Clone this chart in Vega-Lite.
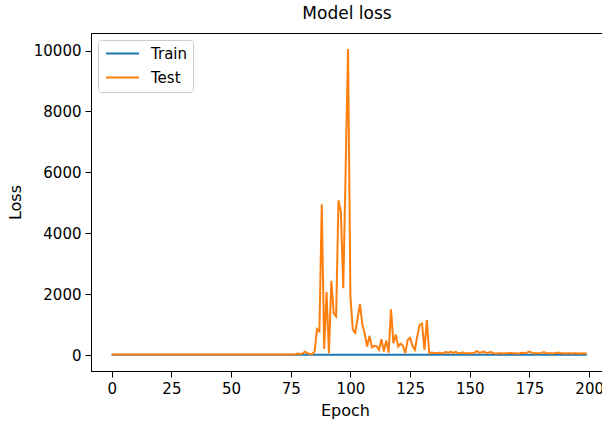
{
  "$schema": "https://vega.github.io/schema/vega-lite/v6.json",
  "width": 512,
  "height": 338,
  "autosize": {"type": "none"},
  "padding": {"left": 91, "top": 33, "right": 0, "bottom": 57},
  "background": "white",
  "config": {
    "font": "DejaVu Sans",
    "view": {"stroke": "black", "strokeWidth": 1},
    "axis": {
      "grid": false,
      "domainColor": "black",
      "tickColor": "black",
      "labelColor": "black",
      "titleColor": "black",
      "labelFont": "DejaVu Sans",
      "titleFont": "DejaVu Sans",
      "labelFontSize": 15,
      "titleFontSize": 16,
      "titleFontWeight": "normal",
      "tickSize": 6,
      "labelPadding": 4
    }
  },
  "title": {
    "text": "Model loss",
    "fontSize": 17,
    "fontWeight": "normal",
    "color": "black",
    "font": "DejaVu Sans",
    "anchor": "middle",
    "offset": 10
  },
  "data": {
    "values": [
      {"epoch":0,"Train":12,"Test":16},{"epoch":1,"Train":12,"Test":15},{"epoch":2,"Train":12,"Test":15},{"epoch":3,"Train":12,"Test":16},{"epoch":4,"Train":12,"Test":15},
      {"epoch":5,"Train":12,"Test":15},{"epoch":6,"Train":12,"Test":14},{"epoch":7,"Train":12,"Test":15},{"epoch":8,"Train":12,"Test":15},{"epoch":9,"Train":12,"Test":16},
      {"epoch":10,"Train":12,"Test":15},{"epoch":11,"Train":12,"Test":15},{"epoch":12,"Train":12,"Test":14},{"epoch":13,"Train":12,"Test":15},{"epoch":14,"Train":12,"Test":15},
      {"epoch":15,"Train":12,"Test":15},{"epoch":16,"Train":12,"Test":16},{"epoch":17,"Train":12,"Test":15},{"epoch":18,"Train":12,"Test":15},{"epoch":19,"Train":12,"Test":14},
      {"epoch":20,"Train":12,"Test":15},{"epoch":21,"Train":12,"Test":15},{"epoch":22,"Train":12,"Test":15},{"epoch":23,"Train":12,"Test":16},{"epoch":24,"Train":12,"Test":15},
      {"epoch":25,"Train":12,"Test":15},{"epoch":26,"Train":12,"Test":15},{"epoch":27,"Train":12,"Test":14},{"epoch":28,"Train":12,"Test":15},{"epoch":29,"Train":12,"Test":15},
      {"epoch":30,"Train":12,"Test":15},{"epoch":31,"Train":12,"Test":16},{"epoch":32,"Train":12,"Test":15},{"epoch":33,"Train":12,"Test":15},{"epoch":34,"Train":12,"Test":15},
      {"epoch":35,"Train":12,"Test":14},{"epoch":36,"Train":12,"Test":15},{"epoch":37,"Train":12,"Test":15},{"epoch":38,"Train":12,"Test":15},{"epoch":39,"Train":12,"Test":16},
      {"epoch":40,"Train":12,"Test":15},{"epoch":41,"Train":12,"Test":15},{"epoch":42,"Train":12,"Test":15},{"epoch":43,"Train":12,"Test":14},{"epoch":44,"Train":12,"Test":15},
      {"epoch":45,"Train":12,"Test":15},{"epoch":46,"Train":12,"Test":15},{"epoch":47,"Train":12,"Test":16},{"epoch":48,"Train":12,"Test":15},{"epoch":49,"Train":12,"Test":15},
      {"epoch":50,"Train":12,"Test":15},{"epoch":51,"Train":12,"Test":14},{"epoch":52,"Train":12,"Test":15},{"epoch":53,"Train":12,"Test":15},{"epoch":54,"Train":12,"Test":15},
      {"epoch":55,"Train":12,"Test":16},{"epoch":56,"Train":12,"Test":15},{"epoch":57,"Train":12,"Test":15},{"epoch":58,"Train":12,"Test":15},{"epoch":59,"Train":12,"Test":14},
      {"epoch":60,"Train":12,"Test":15},{"epoch":61,"Train":12,"Test":15},{"epoch":62,"Train":12,"Test":15},{"epoch":63,"Train":12,"Test":16},{"epoch":64,"Train":12,"Test":15},
      {"epoch":65,"Train":12,"Test":15},{"epoch":66,"Train":12,"Test":15},{"epoch":67,"Train":12,"Test":14},{"epoch":68,"Train":12,"Test":15},{"epoch":69,"Train":12,"Test":15},
      {"epoch":70,"Train":12,"Test":15},{"epoch":71,"Train":12,"Test":16},{"epoch":72,"Train":12,"Test":15},{"epoch":73,"Train":12,"Test":15},{"epoch":74,"Train":12,"Test":15},
      {"epoch":75,"Train":12,"Test":14},{"epoch":76,"Train":12,"Test":18},{"epoch":77,"Train":11,"Test":25},{"epoch":78,"Train":11,"Test":45},{"epoch":79,"Train":11,"Test":30},
      {"epoch":80,"Train":11,"Test":55},{"epoch":81,"Train":11,"Test":110},{"epoch":82,"Train":11,"Test":60},{"epoch":83,"Train":11,"Test":35},{"epoch":84,"Train":11,"Test":30},
      {"epoch":85,"Train":11,"Test":120},{"epoch":86,"Train":11,"Test":850},{"epoch":87,"Train":11,"Test":780},{"epoch":88,"Train":11,"Test":4950},{"epoch":89,"Train":11,"Test":200},
      {"epoch":90,"Train":11,"Test":2080},{"epoch":91,"Train":11,"Test":60},{"epoch":92,"Train":11,"Test":2440},{"epoch":93,"Train":11,"Test":1370},{"epoch":94,"Train":11,"Test":1270},
      {"epoch":95,"Train":11,"Test":5080},{"epoch":96,"Train":11,"Test":4700},{"epoch":97,"Train":11,"Test":2190},{"epoch":98,"Train":11,"Test":6100},{"epoch":99,"Train":11,"Test":10050},
      {"epoch":100,"Train":10,"Test":1900},{"epoch":101,"Train":10,"Test":830},{"epoch":102,"Train":10,"Test":730},{"epoch":103,"Train":10,"Test":1200},{"epoch":104,"Train":10,"Test":1680},
      {"epoch":105,"Train":10,"Test":1000},{"epoch":106,"Train":10,"Test":700},{"epoch":107,"Train":10,"Test":280},{"epoch":108,"Train":10,"Test":630},{"epoch":109,"Train":10,"Test":250},
      {"epoch":110,"Train":10,"Test":300},{"epoch":111,"Train":10,"Test":280},{"epoch":112,"Train":10,"Test":170},{"epoch":113,"Train":10,"Test":520},{"epoch":114,"Train":10,"Test":110},
      {"epoch":115,"Train":10,"Test":480},{"epoch":116,"Train":10,"Test":80},{"epoch":117,"Train":10,"Test":1500},{"epoch":118,"Train":10,"Test":390},{"epoch":119,"Train":10,"Test":670},
      {"epoch":120,"Train":10,"Test":280},{"epoch":121,"Train":10,"Test":370},{"epoch":122,"Train":10,"Test":300},{"epoch":123,"Train":10,"Test":60},{"epoch":124,"Train":10,"Test":500},
      {"epoch":125,"Train":10,"Test":560},{"epoch":126,"Train":10,"Test":300},{"epoch":127,"Train":10,"Test":170},{"epoch":128,"Train":10,"Test":610},{"epoch":129,"Train":10,"Test":990},
      {"epoch":130,"Train":10,"Test":1030},{"epoch":131,"Train":10,"Test":170},{"epoch":132,"Train":10,"Test":1150},{"epoch":133,"Train":10,"Test":60},{"epoch":134,"Train":10,"Test":80},
      {"epoch":135,"Train":9,"Test":70},{"epoch":136,"Train":9,"Test":60},{"epoch":137,"Train":9,"Test":70},{"epoch":138,"Train":9,"Test":55},{"epoch":139,"Train":9,"Test":60},
      {"epoch":140,"Train":9,"Test":100},{"epoch":141,"Train":9,"Test":70},{"epoch":142,"Train":9,"Test":110},{"epoch":143,"Train":9,"Test":60},{"epoch":144,"Train":9,"Test":100},
      {"epoch":145,"Train":9,"Test":70},{"epoch":146,"Train":9,"Test":60},{"epoch":147,"Train":9,"Test":90},{"epoch":148,"Train":9,"Test":60},{"epoch":149,"Train":9,"Test":55},
      {"epoch":150,"Train":9,"Test":60},{"epoch":151,"Train":9,"Test":60},{"epoch":152,"Train":9,"Test":70},{"epoch":153,"Train":9,"Test":130},{"epoch":154,"Train":9,"Test":70},
      {"epoch":155,"Train":9,"Test":90},{"epoch":156,"Train":9,"Test":110},{"epoch":157,"Train":9,"Test":60},{"epoch":158,"Train":9,"Test":80},{"epoch":159,"Train":9,"Test":100},
      {"epoch":160,"Train":9,"Test":60},{"epoch":161,"Train":9,"Test":50},{"epoch":162,"Train":9,"Test":55},{"epoch":163,"Train":9,"Test":60},{"epoch":164,"Train":9,"Test":50},
      {"epoch":165,"Train":9,"Test":55},{"epoch":166,"Train":9,"Test":60},{"epoch":167,"Train":9,"Test":70},{"epoch":168,"Train":9,"Test":55},{"epoch":169,"Train":9,"Test":60},
      {"epoch":170,"Train":8,"Test":50},{"epoch":171,"Train":8,"Test":55},{"epoch":172,"Train":8,"Test":70},{"epoch":173,"Train":8,"Test":60},{"epoch":174,"Train":8,"Test":80},
      {"epoch":175,"Train":8,"Test":110},{"epoch":176,"Train":8,"Test":70},{"epoch":177,"Train":8,"Test":60},{"epoch":178,"Train":8,"Test":55},{"epoch":179,"Train":8,"Test":60},
      {"epoch":180,"Train":8,"Test":70},{"epoch":181,"Train":8,"Test":100},{"epoch":182,"Train":8,"Test":60},{"epoch":183,"Train":8,"Test":55},{"epoch":184,"Train":8,"Test":60},
      {"epoch":185,"Train":8,"Test":50},{"epoch":186,"Train":8,"Test":70},{"epoch":187,"Train":8,"Test":80},{"epoch":188,"Train":8,"Test":60},{"epoch":189,"Train":8,"Test":55},
      {"epoch":190,"Train":8,"Test":50},{"epoch":191,"Train":8,"Test":60},{"epoch":192,"Train":8,"Test":55},{"epoch":193,"Train":8,"Test":50},{"epoch":194,"Train":8,"Test":60},
      {"epoch":195,"Train":8,"Test":55},{"epoch":196,"Train":8,"Test":50},{"epoch":197,"Train":8,"Test":55},{"epoch":198,"Train":8,"Test":50},{"epoch":199,"Train":8,"Test":50}
    ]
  },
  "transform": [{"fold": ["Train", "Test"], "as": ["series", "loss"]}],
  "mark": {"type": "line", "strokeWidth": 2, "clip": true},
  "encoding": {
    "x": {
      "field": "epoch",
      "type": "quantitative",
      "scale": {"domain": [-8.67, 205.8], "nice": false, "zero": false},
      "axis": {
        "title": "Epoch",
        "format": "d",
        "values": [0, 25, 50, 75, 100, 125, 150, 175, 200],
        "titleX": 254,
        "titleY": 39,
        "titleAlign": "center",
        "titleBaseline": "middle",
        "labelFlush": false
      }
    },
    "y": {
      "field": "loss",
      "type": "quantitative",
      "scale": {"domain": [-525, 10575], "nice": false, "zero": false},
      "axis": {
        "title": "Loss",
        "format": "d",
        "values": [0, 2000, 4000, 6000, 8000, 10000],
        "titleX": -76,
        "titleY": 169,
        "titleAngle": -90,
        "titleAlign": "center",
        "titleBaseline": "middle",
        "labelFlush": false
      }
    },
    "color": {
      "field": "series",
      "type": "nominal",
      "scale": {"domain": ["Train", "Test"], "range": ["#1f77b4", "#ff7f0e"]},
      "legend": {
        "title": null,
        "orient": "none",
        "legendX": 7,
        "legendY": 7,
        "padding": 6,
        "strokeColor": "#cccccc",
        "fillColor": "white",
        "cornerRadius": 3,
        "symbolType": "M-1,0H5",
        "symbolSize": 121,
        "symbolStrokeWidth": 2,
        "labelFontSize": 15,
        "labelColor": "black",
        "labelFont": "DejaVu Sans",
        "labelOffset": 32,
        "rowPadding": 8
      }
    }
  }
}
